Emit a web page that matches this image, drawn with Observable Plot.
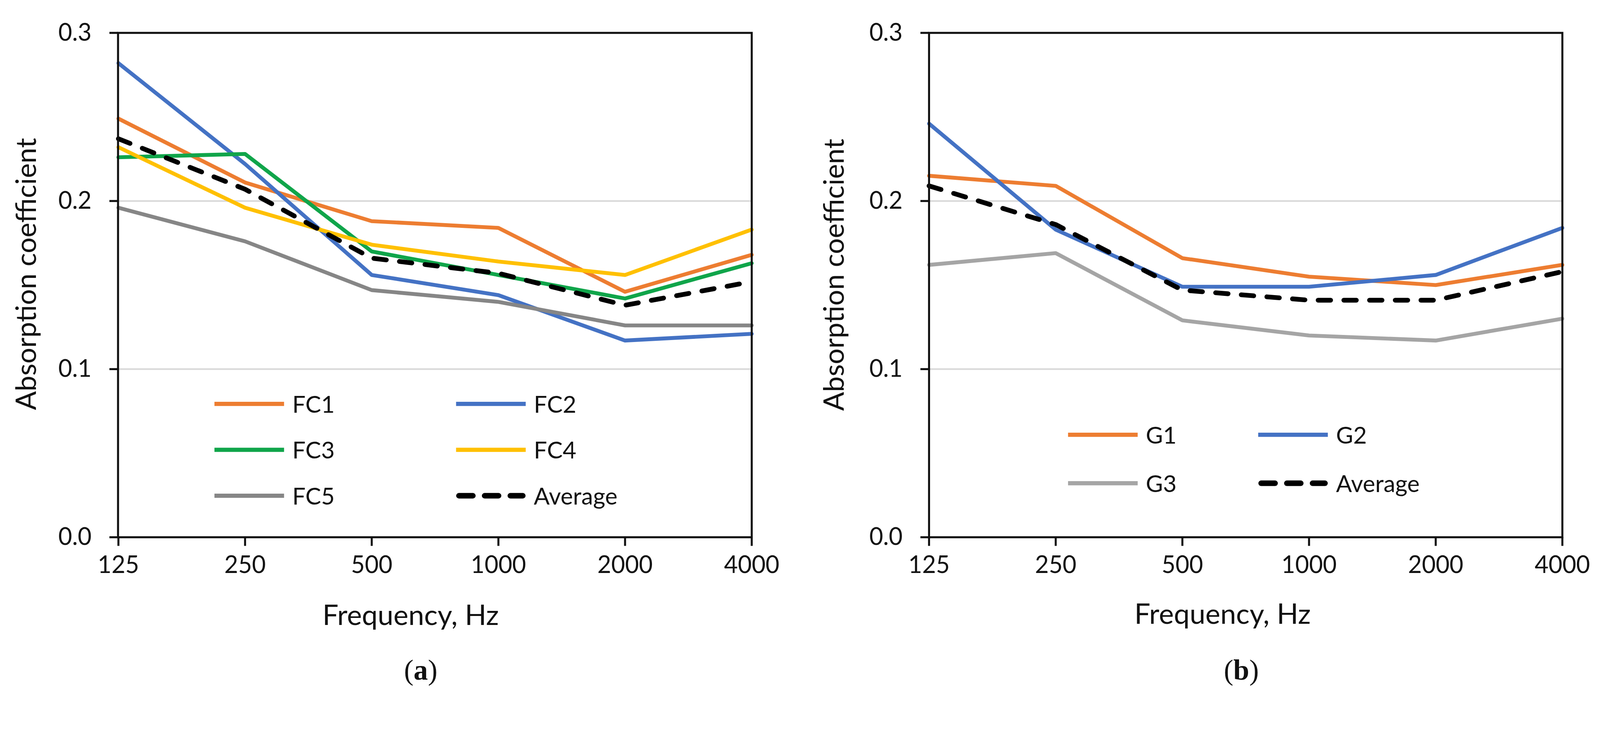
<!DOCTYPE html>
<html><head><meta charset="utf-8">
<script src="https://cdn.jsdelivr.net/npm/d3@7"></script>
<script src="https://cdn.jsdelivr.net/npm/@observablehq/plot@0.6"></script>
<style>
html,body{margin:0;padding:0;background:#fff;overflow:hidden;}
#wrap{position:relative;width:4358px;height:1901px;font-family:Lato,sans-serif;color:#111;overflow:hidden;transform-origin:0 0;}
.panel{position:absolute;top:0;}
.leg{position:absolute;display:flex;align-items:center;font-size:64px;transform:translateY(-50%);white-space:nowrap;}
.leg svg{margin-right:22px;}
.cap{position:absolute;font-family:"Liberation Serif",serif;font-size:78px;transform:translate(-50%,-50%);}
</style></head><body><div id="wrap"></div>
<script>
// ---- data ----
const freqs = [125, 250, 500, 1000, 2000, 4000];
const tickLabelsY = [0, 0.1, 0.2, 0.3];

const fcNames = ["FC1", "FC2", "FC3", "FC4", "FC5", "Average"];
const fcColors = ["#ED7D31", "#4472C4", "#10A54A", "#FFC000", "#868686", "#000000"];
const FC1 = [0.249, 0.211, 0.188, 0.184, 0.146, 0.168];
const FC2 = [0.282, 0.222, 0.156, 0.144, 0.117, 0.121];
const FC3 = [0.226, 0.228, 0.170, 0.156, 0.142, 0.163];
const FC4 = [0.232, 0.196, 0.174, 0.164, 0.156, 0.183];
const FC5 = [0.196, 0.176, 0.147, 0.140, 0.126, 0.126];
const FCavg = [0.237, 0.207, 0.166, 0.157, 0.138, 0.152];

const gNames = ["G1", "G2", "G3", "Average"];
const gColors = ["#ED7D31", "#4472C4", "#A5A5A5", "#000000"];
const G1 = [0.215, 0.209, 0.166, 0.155, 0.150, 0.162];
const G2 = [0.246, 0.183, 0.149, 0.149, 0.156, 0.184];
const G3 = [0.162, 0.169, 0.129, 0.120, 0.117, 0.130];
const Gavg = [0.209, 0.186, 0.147, 0.141, 0.141, 0.158];

const xTitle = "Frequency, Hz";
const yTitle = "Absorption coefficient";

// ---- build ----
function toRows(names, arrays) {
  const rows = [];
  names.forEach((n, i) => arrays[i].forEach((v, j) => rows.push({series: n, freq: freqs[j], value: v})));
  return rows;
}

function panel({names, colors, arrays, mLeft, mRight, yTitleDx, yTitleDy, xTitleDx, xTitleDy}) {
  const rows = toRows(names, arrays);
  const solid = rows.filter(d => d.series !== "Average");
  const avg = rows.filter(d => d.series === "Average");
  return Plot.plot({
    width: 2179,
    height: 1901,
    marginLeft: mLeft,
    marginRight: mRight,
    marginTop: 89,
    marginBottom: 439,
    style: {fontFamily: "Lato, sans-serif", fontSize: "65px", color: "#111", background: "transparent", overflow: "visible"},
    x: {type: "point", domain: freqs, padding: 0},
    y: {domain: [0, 0.3]},
    color: {domain: names, range: colors},
    marks: [
      Plot.gridY([0.1, 0.2], {stroke: "#d9d9d9", strokeOpacity: 1, strokeWidth: 4.5}),
      Plot.line(solid, {x: "freq", y: "value", z: "series", stroke: "series", strokeWidth: 10.5, strokeLinejoin: "round"}),
      Plot.line(avg, {x: "freq", y: "value", stroke: "#000", strokeWidth: 13, strokeDasharray: "34,36", strokeLinecap: "round", strokeLinejoin: "round"}),
      Plot.frame({stroke: "#111", strokeWidth: 5.5}),
      Plot.axisY(tickLabelsY, {tickSize: 23, tickPadding: 49, tickFormat: d3.format(".1f"), strokeWidth: 5.5, label: null}),
      Plot.axisX(freqs, {tickSize: 24, tickPadding: 27, tickFormat: d => String(d), strokeWidth: 5.5, label: null}),
      Plot.text([yTitle], {text: d => d, frameAnchor: "left", dx: yTitleDx, dy: yTitleDy, rotate: -90, fontSize: 76, lineAnchor: "middle", textAnchor: "middle"}),
      Plot.text([xTitle], {text: d => d, frameAnchor: "bottom", dx: xTitleDx, dy: xTitleDy, fontSize: 77, lineAnchor: "middle", textAnchor: "middle"})
    ]
  });
}

const wrap = document.getElementById("wrap");

const left = panel({names: fcNames, colors: fcColors, arrays: [FC1, FC2, FC3, FC4, FC5, FCavg],
  mLeft: 321, mRight: 132, yTitleDx: 73 - 321, yTitleDy: -30, xTitleDx: -66, xTitleDy: 214});
left.classList.add("panel"); left.style.left = "0px";
wrap.appendChild(left);

const right = panel({names: gNames, colors: gColors, arrays: [G1, G2, G3, Gavg],
  mLeft: 351, mRight: 103, yTitleDx: 94 - 351, yTitleDy: -28, xTitleDx: -63, xTitleDy: 211});
right.classList.add("panel"); right.style.left = "2179px";
wrap.appendChild(right);

// ---- legends (HTML layout) ----
function swatch(color, dashed, len) {
  const s = dashed
    ? `<line x1="8" y1="12" x2="${len - 8}" y2="12" stroke="${color}" stroke-width="15" stroke-dasharray="38,32" stroke-linecap="round"/>`
    : `<line x1="0" y1="12" x2="${len}" y2="12" stroke="${color}" stroke-width="11.5"/>`;
  return `<svg width="${len}" height="24">${s}</svg>`;
}
function legend(names, colors, cols, rowsY) {
  names.forEach((n, i) => {
    const d = document.createElement("div");
    d.className = "leg";
    d.style.left = cols[i % 2] + "px";
    d.style.top = rowsY[Math.floor(i / 2)] + "px";
    d.innerHTML = swatch(colors[i], n === "Average", 190) + `<span>${n}</span>`;
    wrap.appendChild(d);
  });
}
legend(fcNames, fcColors, [584, 1242], [1099, 1224, 1349]);
legend(gNames, gColors, [2909, 3427], [1183, 1315]);

// ---- captions ----
[["a", 1146], ["b", 3381]].forEach(([t, x]) => {
  const c = document.createElement("div");
  c.className = "cap";
  c.style.left = x + "px"; c.style.top = "1824px";
  c.innerHTML = `(<b>${t}</b>)`;
  wrap.appendChild(c);
});

// fit the 4358x1901 layout into the actual viewport
function fit() {
  const vw = document.documentElement.clientWidth || window.innerWidth;
  const vh = document.documentElement.clientHeight || window.innerHeight;
  const s = Math.min(vw / 4358, vh / 1901, 1);
  wrap.style.transform = s < 1 ? `scale(${s})` : "";
}
fit();
window.addEventListener("resize", fit);
</script></body></html>
